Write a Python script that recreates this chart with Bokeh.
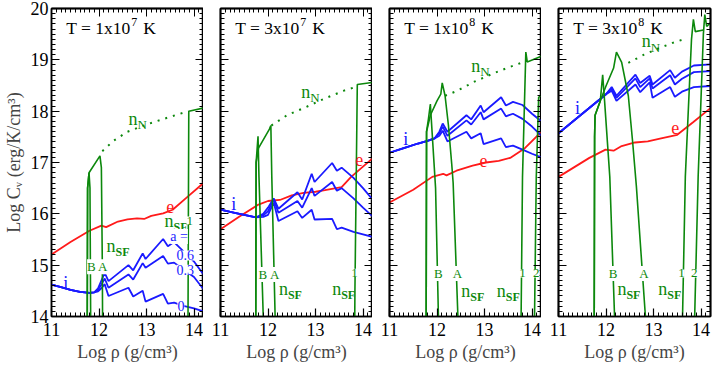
from bokeh.plotting import figure
from bokeh.models import Range1d, LinearAxis, SingleIntervalTicker, FixedTicker, Label
from bokeh.layouts import row
from bokeh.embed import file_html
from bokeh.resources import INLINE

FONT = "'Liberation Serif', 'Times New Roman', 'DejaVu Serif', serif"
RED = "#ff1a1a"
BLUE = "#1a1aff"
GREEN = "#0c880c"

# ---------------- panel temperatures ----------------
temp_mantissa = ["1", "3", "1", "3"]
temp_exponent = ["7", "7", "8", "8"]

# ---------------- axis ticks ----------------
x_major = [11, 12, 13, 14]
y_major = [14, 15, 16, 17, 18, 19, 20]
x_minor = [round(11 + 0.1 * n, 1) for n in range(33)]
y_minor = [round(14 + 0.1 * n, 1) for n in range(61)]

# ---------------- electrons (e) ----------------
e1_x = [11.0, 11.4, 11.8, 12.05, 12.15, 12.4, 12.6, 12.8, 12.95, 13.1, 13.35, 13.55, 13.85, 14.2]
e1_y = [15.21, 15.45, 15.67, 15.77, 15.74, 15.85, 15.89, 15.91, 15.90, 15.96, 16.01, 16.08, 16.32, 16.60]
e2_x = [11.0, 11.4, 11.8, 12.0, 12.1, 12.25, 12.5, 12.75, 13.0, 13.2, 13.55, 13.75, 14.0, 14.2]
e2_y = [15.70, 15.95, 16.18, 16.25, 16.26, 16.27, 16.36, 16.41, 16.43, 16.46, 16.52, 16.72, 16.92, 17.08]
e3_x = [11.0, 11.5, 11.9, 12.13, 12.2, 12.41, 12.75, 13.03, 13.3, 13.54, 13.85, 14.2]
e3_y = [16.22, 16.47, 16.72, 16.78, 16.75, 16.84, 16.94, 17.00, 17.03, 17.09, 17.28, 17.60]
e4_x = [11.0, 11.65, 11.99, 12.16, 12.33, 12.61, 12.88, 13.16, 13.5, 13.84, 14.2]
e4_y = [16.72, 17.09, 17.25, 17.23, 17.32, 17.39, 17.41, 17.47, 17.54, 17.79, 18.06]

# ---------------- ions (i), a = 0.6 / 0.3 / 0 ----------------
i1_x = [11.0, 11.2, 11.4, 11.6, 11.8, 11.9, 11.98, 12.05, 12.12, 12.2, 12.62, 12.72, 12.92, 12.98, 13.35, 13.45, 13.58, 13.8, 14.0, 14.2]
i1_a06 = [14.62, 14.57, 14.52, 14.48, 14.46, 14.47, 14.55, 14.70, 14.85, 14.69, 15.00, 14.90, 15.23, 15.12, 15.51, 15.37, 15.45, 15.25, 15.07, 14.82]
i1_a03 = [14.62, 14.57, 14.52, 14.48, 14.46, 14.47, 14.52, 14.62, 14.74, 14.56, 14.82, 14.72, 15.04, 14.95, 15.18, 15.03, 15.05, 14.90, 14.77, 14.53]
i1_a00 = [14.62, 14.57, 14.52, 14.48, 14.46, 14.47, 14.49, 14.55, 14.63, 14.40, 14.56, 14.39, 14.50, 14.29, 14.44, 14.25, 14.27, 14.20, 14.16, 14.10]

i2_x = [11.0, 11.3, 11.6, 11.75, 11.9, 12.0, 12.12, 12.22, 12.62, 12.72, 12.92, 12.98, 13.35, 13.45, 13.55, 13.8, 14.0, 14.2]
i2_a06 = [16.08, 16.02, 15.96, 15.93, 16.00, 16.12, 16.30, 16.10, 16.42, 16.28, 16.78, 16.62, 16.99, 16.84, 16.90, 16.70, 16.50, 16.28]
i2_a03 = [16.08, 16.02, 15.96, 15.93, 15.97, 16.05, 16.28, 16.02, 16.25, 16.12, 16.50, 16.35, 16.62, 16.45, 16.50, 16.30, 16.12, 15.95]
i2_a00 = [16.08, 16.02, 15.96, 15.93, 15.94, 15.98, 16.22, 15.86, 16.05, 15.92, 16.08, 15.89, 15.90, 15.70, 15.73, 15.65, 15.60, 15.55]

i3_x = [11.0, 11.3, 11.6, 11.8, 11.95, 12.05, 12.12, 12.22, 12.62, 12.72, 12.92, 12.98, 13.35, 13.45, 13.6, 13.8, 14.0, 14.2]
i3_a06 = [17.19, 17.28, 17.37, 17.42, 17.47, 17.60, 17.76, 17.60, 17.92, 17.84, 18.11, 17.98, 18.27, 18.11, 18.18, 18.12, 17.95, 17.80]
i3_a03 = [17.19, 17.28, 17.37, 17.42, 17.47, 17.57, 17.70, 17.52, 17.82, 17.74, 17.98, 17.84, 18.05, 17.90, 17.95, 17.85, 17.70, 17.52]
i3_a00 = [17.19, 17.28, 17.37, 17.42, 17.47, 17.52, 17.62, 17.41, 17.60, 17.47, 17.57, 17.36, 17.47, 17.30, 17.33, 17.25, 17.17, 17.10]

i4_x = [11.0, 11.5, 12.0, 12.12, 12.22, 12.62, 12.72, 12.92, 12.98, 13.35, 13.45, 13.6, 13.85, 14.2]
i4_a06 = [17.57, 17.95, 18.33, 18.47, 18.30, 18.71, 18.55, 18.69, 18.52, 18.80, 18.65, 18.77, 18.89, 18.91]
i4_a03 = [17.57, 17.95, 18.33, 18.44, 18.26, 18.64, 18.47, 18.64, 18.44, 18.70, 18.52, 18.63, 18.76, 18.78]
i4_a00 = [17.57, 17.95, 18.33, 18.40, 18.20, 18.52, 18.37, 18.56, 18.26, 18.47, 18.28, 18.38, 18.47, 18.49]

# ---------------- normal neutrons (n_N, dotted) ----------------
nN1_x = [12.07, 12.3, 12.6, 13.0, 13.5, 13.88]
nN1_y = [17.22, 17.42, 17.60, 17.74, 17.89, 18.00]
nN2_x = [12.07, 12.4, 12.8, 13.2, 13.6, 13.87]
nN2_y = [17.72, 17.92, 18.08, 18.25, 18.40, 18.48]
nN3_x = [12.17, 12.41, 12.8, 13.2, 13.5, 13.8]
nN3_y = [18.30, 18.39, 18.58, 18.74, 18.85, 18.95]
nN4_x = [12.47, 12.8, 13.1, 13.4, 13.7]
nN4_y = [18.94, 19.10, 19.22, 19.33, 19.42]

# ---------------- superfluid neutrons (n_SF), models B, A, 1, 2 ----------------
sB1_x = [11.75, 11.76, 11.79, 11.81, 11.83]
sB1_y = [13.0, 16.50, 16.80, 16.50, 13.0]
sA1_x = [11.75, 11.76, 11.79, 12.02, 12.05, 12.07, 12.08]
sA1_y = [13.0, 16.50, 16.80, 17.13, 16.90, 15.0, 13.0]
s11_x = [13.87, 13.89, 14.2]
s11_y = [13.0, 18.00, 18.06]

sB2_x = [11.74, 11.75, 11.79, 11.81, 11.90, 11.91]
sB2_y = [13.0, 17.00, 17.51, 16.72, 14.0, 13.0]
sA2_x = [11.74, 11.75, 11.80, 12.03, 12.06, 12.08, 12.15, 12.16]
sA2_y = [13.0, 17.00, 17.28, 17.65, 17.72, 16.72, 14.0, 13.0]
s12_x = [13.82, 13.83, 13.88, 14.2]
s12_y = [13.0, 14.50, 18.52, 18.56]

sB3_x = [11.77, 11.78, 11.82, 11.86, 11.97, 12.03, 12.04]
sB3_y = [13.0, 17.60, 17.85, 18.14, 16.50, 14.0, 13.0]
sA3_x = [11.77, 11.78, 11.86, 12.0, 12.08, 12.11, 12.17, 12.24, 12.31, 12.34, 12.44, 12.45]
sA3_y = [13.0, 17.60, 17.92, 18.20, 18.33, 18.55, 18.30, 17.73, 16.97, 16.60, 14.0, 13.0]
s13_x = [13.76, 13.80, 13.87, 13.90, 14.2]
s13_y = [13.0, 16.72, 19.15, 18.96, 19.07]
s23_x = [14.04, 14.09, 14.14, 14.25]
s23_y = [13.0, 16.72, 18.27, 18.35]

sB4_x = [11.75, 11.76, 11.77, 11.88, 11.93, 11.97, 12.08, 12.18, 12.19]
sB4_y = [13.0, 17.50, 17.92, 18.20, 18.71, 18.20, 16.72, 14.0, 13.0]
sA4_x = [11.75, 11.76, 11.77, 11.9, 12.0, 12.16, 12.22, 12.33, 12.47, 12.56, 12.64, 12.83, 12.84]
sA4_y = [13.0, 17.50, 17.92, 18.25, 18.49, 18.84, 19.15, 18.95, 18.30, 17.41, 16.53, 14.0, 13.0]
s14_x = [13.59, 13.67, 13.80, 13.84, 13.88, 14.05]
s14_y = [13.0, 16.72, 19.40, 19.79, 19.55, 19.58]
s24_x = [13.84, 13.94, 14.05, 14.08, 14.12, 14.2]
s24_y = [13.0, 16.72, 19.50, 19.88, 19.65, 19.72]

# ---------------- label anchors ----------------
e_lab_x = [13.50, 13.92, 12.98, 13.46]
e_lab_y = [16.15, 17.06, 17.03, 17.68]
i_lab_x = [11.30, 11.28, 11.34, 11.40]
i_lab_y = [14.66, 16.20, 17.46, 18.06]
nN_lab_x = [12.62, 12.70, 12.72, 12.75]
nN_lab_y = [17.85, 18.38, 18.88, 19.36]
nSF_lab_x = [[12.16, 13.38], [12.23, 13.35], [12.51, 13.26], [12.24, 13.10]]
nSF_lab_y = [[15.37, 15.86], [14.53, 14.53], [14.49, 14.49], [14.53, 14.53]]
model_text = [["B", "A", "1"], ["B", "A", "1"], ["B", "A", "1", "2"], ["B", "A", "1", "2"]]
model_lab_x = [[11.84, 12.08, 13.91], [11.89, 12.14, 13.82], [12.03, 12.43, 13.80, 14.09], [12.15, 12.80, 13.59, 13.86]]
model_lab_y = [[14.97, 14.97, 15.87], [14.82, 14.82, 14.85], [14.84, 14.84, 14.84, 14.84], [14.84, 14.84, 14.84, 14.84]]
a_text = ["a =", "0.6", "0.3", "0"]
a_lab_x = [13.50, 13.63, 13.63, 13.65]
a_lab_y = [15.56, 15.19, 14.91, 14.21]

E_SETS = [(e1_x, e1_y), (e2_x, e2_y), (e3_x, e3_y), (e4_x, e4_y)]
I_SETS = [(i1_x, [i1_a06, i1_a03, i1_a00]), (i2_x, [i2_a06, i2_a03, i2_a00]),
          (i3_x, [i3_a06, i3_a03, i3_a00]), (i4_x, [i4_a06, i4_a03, i4_a00])]
NN_SETS = [(nN1_x, nN1_y), (nN2_x, nN2_y), (nN3_x, nN3_y), (nN4_x, nN4_y)]
SF_SETS = [
    [(sB1_x, sB1_y), (sA1_x, sA1_y), (s11_x, s11_y)],
    [(sB2_x, sB2_y), (sA2_x, sA2_y), (s12_x, s12_y)],
    [(sB3_x, sB3_y), (sA3_x, sA3_y), (s13_x, s13_y), (s23_x, s23_y)],
    [(sB4_x, sB4_y), (sA4_x, sA4_y), (s14_x, s14_y), (s24_x, s24_y)],
]


def style_common(ax):
    ax.axis_line_color = "black"
    ax.axis_line_width = 1.5
    ax.major_tick_line_color = "black"
    ax.major_tick_line_width = 1.2
    ax.minor_tick_line_color = "black"
    ax.minor_tick_line_width = 1
    ax.major_tick_out = 0
    ax.minor_tick_out = 0


def style_labeled(ax):
    ax.ticker = SingleIntervalTicker(interval=1, num_minor_ticks=10)
    style_common(ax)
    ax.major_tick_in = 8
    ax.minor_tick_in = 4
    ax.major_label_text_font = FONT
    ax.major_label_text_color = "black"
    ax.major_label_text_font_size = "18px"


def add_bare_axes(p, side, major, minor):
    # axes with tick marks only (no tick labels): long marks at majors, short at minors
    for pos, length in ((major, 8), (minor, 4)):
        ax = LinearAxis(ticker=FixedTicker(ticks=[], minor_ticks=pos))
        style_common(ax)
        ax.major_tick_in = 0
        ax.minor_tick_in = length
        ax.major_label_standoff = 0
        p.add_layout(ax, side)


def add_text(p, x, y, text, size, color, align="left", bold=False, xo=0, yo=0, bg=None):
    kw = {}
    if bg is not None:
        kw = dict(background_fill_color=bg, background_fill_alpha=1.0)
    p.add_layout(Label(x=x, y=y, text=text, text_font=FONT, text_font_size=size,
                       text_color=color, text_align=align, text_baseline="middle",
                       text_font_style="bold" if bold else "normal",
                       x_offset=xo, y_offset=yo, **kw))


def make_panel(k):
    first = k == 0
    last = k == 3
    p = figure(frame_width=152, frame_height=308,
               x_range=Range1d(11.0, 14.2), y_range=Range1d(14.0, 20.0),
               output_backend="svg", toolbar_location=None,
               y_axis_location="left" if first else None,
               min_border_left=42 if first else 17, min_border_right=4 if last else 0,
               min_border_top=8, min_border_bottom=42,
               background_fill_color="white", border_fill_color="white")
    p.xgrid.visible = False
    p.ygrid.visible = False
    p.outline_line_color = "black"
    p.outline_line_width = 1.5

    bx = p.xaxis[0]
    style_labeled(bx)
    bx.major_label_standoff = 6
    bx.axis_label = "Log \u03c1 (g/cm\u00b3)"
    bx.axis_label_text_font = FONT
    bx.axis_label_text_font_size = "18px"
    bx.axis_label_text_font_style = "normal"
    bx.axis_label_standoff = 3

    if first:
        ly = p.yaxis[0]
        style_labeled(ly)
        ly.major_label_standoff = 3
        ly.axis_label = "Log C\u1d65 (erg/K/cm\u00b3)"
        ly.axis_label_text_font = FONT
        ly.axis_label_text_font_size = "18px"
        ly.axis_label_text_font_style = "normal"
        ly.axis_label_standoff = 4
    else:
        add_bare_axes(p, "left", y_major, y_minor)

    add_bare_axes(p, "right", y_major, y_minor)
    add_bare_axes(p, "above", x_major, x_minor)

    # curves
    ex, ey = E_SETS[k]
    p.line(ex, ey, line_color=RED, line_width=1.8)
    ix, iys = I_SETS[k]
    for iy in iys:
        p.line(ix, iy, line_color=BLUE, line_width=1.8)
    nx, ny = NN_SETS[k]
    p.line(nx, ny, line_color=GREEN, line_width=2, line_dash="2 6")
    for sx, sy in SF_SETS[k]:
        p.line(sx, sy, line_color=GREEN, line_width=1.6)

    # title
    add_text(p, 11.31, 19.62, "T = %sx10" % temp_mantissa[k], "17.5px", "black")
    add_text(p, 11.31, 19.62, temp_exponent[k], "12px", "black", xo=65, yo=6)
    add_text(p, 11.31, 19.62, "K", "17.5px", "black", xo=77)

    # curve labels
    add_text(p, e_lab_x[k], e_lab_y[k], "e", "18px", RED, align="center")
    add_text(p, i_lab_x[k], i_lab_y[k], "i", "18px", BLUE, align="center")
    add_text(p, nN_lab_x[k], nN_lab_y[k], "n", "18px", GREEN)
    add_text(p, nN_lab_x[k], nN_lab_y[k], "N", "13px", GREEN, xo=9, yo=-6)
    for sxl, syl in zip(nSF_lab_x[k], nSF_lab_y[k]):
        add_text(p, sxl, syl, "n", "18px", GREEN)
        add_text(p, sxl, syl, "SF", "12px", GREEN, bold=True, xo=9, yo=-6)
    for t, mx, my in zip(model_text[k], model_lab_x[k], model_lab_y[k]):
        add_text(p, mx, my, t, "13px", GREEN, align="center", bg="white")
    if first:
        for t, ax_, ay_ in zip(a_text, a_lab_x, a_lab_y):
            add_text(p, ax_, ay_, t, "14px", BLUE, bg="white")
    return p


panels = [make_panel(k) for k in range(4)]
layout = row(*panels)
open("out.html", "w").write(file_html(layout, INLINE))
